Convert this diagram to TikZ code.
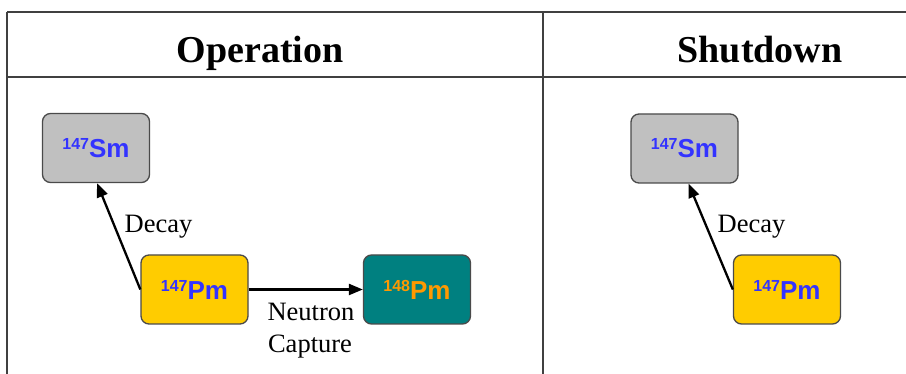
\documentclass[tikz,border=0pt]{standalone}
\usepackage{fontspec}
\setmainfont{Liberation Serif}
\newfontfamily\nucfont{Liberation Sans}
\usetikzlibrary{arrows.meta}
\definecolor{smgray}{HTML}{C0C0C0}
\definecolor{pmyellow}{HTML}{FFCC00}
\definecolor{pmteal}{HTML}{008080}
\definecolor{nucblue}{HTML}{3333FF}
\definecolor{nucorange}{HTML}{FF9900}
\definecolor{edgegray}{HTML}{4A4A4A}
\tikzset{
  nuc/.style={draw=edgegray, line width=1.3pt, rounded corners=8pt,
    minimum width=107pt, minimum height=69pt, inner sep=0pt,
    font=\nucfont\bfseries\fontsize{26}{28}\selectfont},
  rule/.style={draw=black!75, line width=1.6pt},
  flow/.style={-{Triangle[length=14pt,width=11pt]}, line width=2.3pt},
  lbl/.style={font=\fontsize{26.5}{29}\selectfont, inner sep=0pt, anchor=base},
  head/.style={font=\bfseries\fontsize{38}{40}\selectfont, inner sep=0pt, anchor=base}
}
\newcommand{\iso}[2]{\raisebox{8pt}{\fontsize{16}{17}\selectfont #1}#2}
\begin{document}
\begin{tikzpicture}[x=1pt,y=-1pt]
\useasboundingbox (0,0) rectangle (906,374);
\fill[white] (0,0) rectangle (906,374);

% table frame
\coordinate (tl) at (7,12);
\coordinate (tr) at (906,12);
\coordinate (hl) at (7,77);
\coordinate (hr) at (906,77);
\coordinate (bl) at (7,374);
\coordinate (mt) at (543,12);
\coordinate (mb) at (543,374);
\draw[rule] (tl) -- (tr);
\draw[rule] (hl) -- (hr);
\draw[rule] (tl) -- (bl);
\draw[rule] (mt) -- (mb);

% column headings
\node[head] (hop) at (260,63) {Operation};
\node[head] (hsd) at (760,63) {Shutdown};

% operation column
\node[nuc, fill=smgray, text=nucblue] (sm1) at (96,148) {\iso{147}{Sm}};
\node[nuc, fill=pmyellow, text=nucblue] (pm1) at (194.5,289.5) {\iso{147}{Pm}};
\node[nuc, fill=pmteal, text=nucorange] (pm2) at (417,289.5) {\iso{148}{Pm}};
\draw[flow] (pm1.west) -- ([xshift=1pt]sm1.south);
\draw[flow] (pm1.east) -- (pm2.west);
\node[lbl] (dec1) at (158.5,233) {Decay};
\node[lbl] (neu) at (311,321) {Neutron};
\node[lbl] (cap) at (310,353) {Capture};

% shutdown column
\node[nuc, fill=smgray, text=nucblue] (sm2) at (684.5,148.5) {\iso{147}{Sm}};
\node[nuc, fill=pmyellow, text=nucblue] (pm3) at (787,289.5) {\iso{147}{Pm}};
\draw[flow] (pm3.west) -- ([xshift=4pt]sm2.south);
\node[lbl] (dec2) at (751.5,233) {Decay};
\end{tikzpicture}
\end{document}
